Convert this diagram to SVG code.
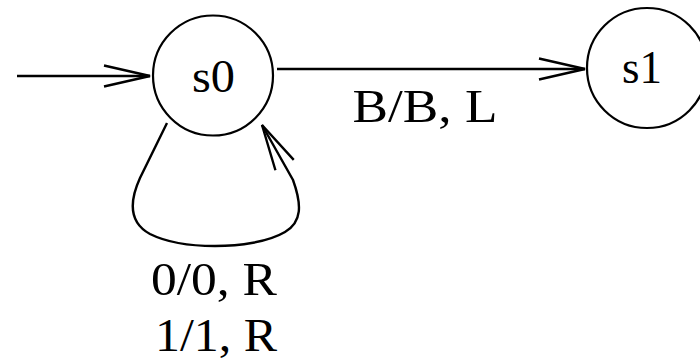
<svg xmlns="http://www.w3.org/2000/svg" width="700" height="360" viewBox="0 0 700 360">
<style>
.st{fill:#fff;stroke:#000;stroke-width:2.2}
.ed{fill:none;stroke:#000;stroke-width:2.4;marker-end:url(#oa)}
.t{font-family:"Liberation Serif","Times New Roman",serif;font-size:46px;fill:#000;text-anchor:middle}
</style>
<defs>
<marker id="oa" markerUnits="userSpaceOnUse" orient="auto" refX="0" refY="0" markerWidth="60" markerHeight="30" overflow="visible">
<path d="M-46,-10.5 L0,0 L-46,10.5" fill="none" stroke="#000" stroke-width="2.4"/>
</marker>
</defs>
<rect width="700" height="360" fill="#fff"/>
<g id="connectors">
<path class="ed" d="M17,76 L150,76"/>
<path class="ed" d="M277,69 L585,69"/>
<path class="ed" d="M167,123 L140,178 C130,200 128,222 150,234 C170,244 195,246 215,246 C240,246 268,242 285,232 C302,222 302,205 293,180 L262,125"/>
<text class="t" x="425" y="122" textLength="145" lengthAdjust="spacingAndGlyphs">B/B, L</text>
<text class="t" x="214" y="295" textLength="126" lengthAdjust="spacingAndGlyphs">0/0, R</text>
<text class="t" x="216" y="351" textLength="122" lengthAdjust="spacingAndGlyphs">1/1, R</text>
</g>
<g id="s0">
<circle class="st" cx="213" cy="75.5" r="60"/>
<text class="t" x="213.5" y="92" textLength="43" lengthAdjust="spacingAndGlyphs">s0</text>
</g>
<g id="s1">
<circle class="st" cx="647" cy="68" r="60"/>
<text class="t" x="642" y="83" textLength="40" lengthAdjust="spacingAndGlyphs">s1</text>
</g>
</svg>
